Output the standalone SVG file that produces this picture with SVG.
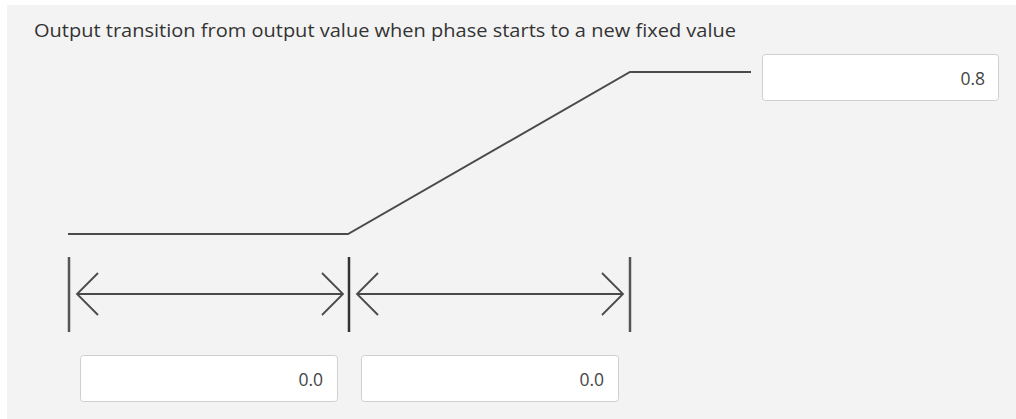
<svg xmlns="http://www.w3.org/2000/svg" width="1016" height="419" viewBox="0 0 1016 419">
<style>
.bg{fill:#f3f3f3}
.lbl{font-family:"Open Sans","Noto Sans",sans-serif;font-size:18.5px;fill:#333}
.box{fill:#ffffff;stroke:#cfcfcf;stroke-width:1}
.val{font-family:"Open Sans","Noto Sans",sans-serif;font-size:17.5px;fill:#444;text-anchor:end}
.curve{fill:none;stroke:#4a4a4a;stroke-width:2}
.tick{stroke:#555;stroke-width:2.5}
.tickmid{stroke:#333;stroke-width:2.5}
.dim{fill:none;stroke:#4a4a4a;stroke-width:1.8}
</style>
<rect x="0" y="0" width="1016" height="419" fill="#ffffff"/>
<rect class="bg" x="7" y="5" width="1009" height="414"/>
<text class="lbl" x="34" y="37" textLength="702" lengthAdjust="spacingAndGlyphs">Output transition from output value when phase starts to a new fixed value</text>
<g id="connectors">
<path class="curve" d="M68,234 H348 L630,72 H751"/>
<line class="tick" x1="69" y1="257" x2="69" y2="332"/>
<line class="tickmid" x1="349" y1="257" x2="349" y2="332"/>
<line class="tick" x1="630" y1="257" x2="630" y2="332"/>
<path class="dim" d="M77,294 H343 M98,273 L77,294 L98,315 M322,273 L343,294 L322,315"/>
<path class="dim" d="M357,294 H623 M378,273 L357,294 L378,315 M602,273 L623,294 L602,315"/>
</g>
<g id="value-end">
<rect class="box" x="762.5" y="54.5" width="236" height="46" rx="3"/>
<text class="val" x="985" y="85">0.8</text>
</g>
<g id="value-hold">
<rect class="box" x="80.5" y="355.5" width="257" height="46" rx="3"/>
<text class="val" x="323" y="386">0.0</text>
</g>
<g id="value-ramp">
<rect class="box" x="361.5" y="355.5" width="257" height="46" rx="3"/>
<text class="val" x="604" y="386">0.0</text>
</g>
</svg>
